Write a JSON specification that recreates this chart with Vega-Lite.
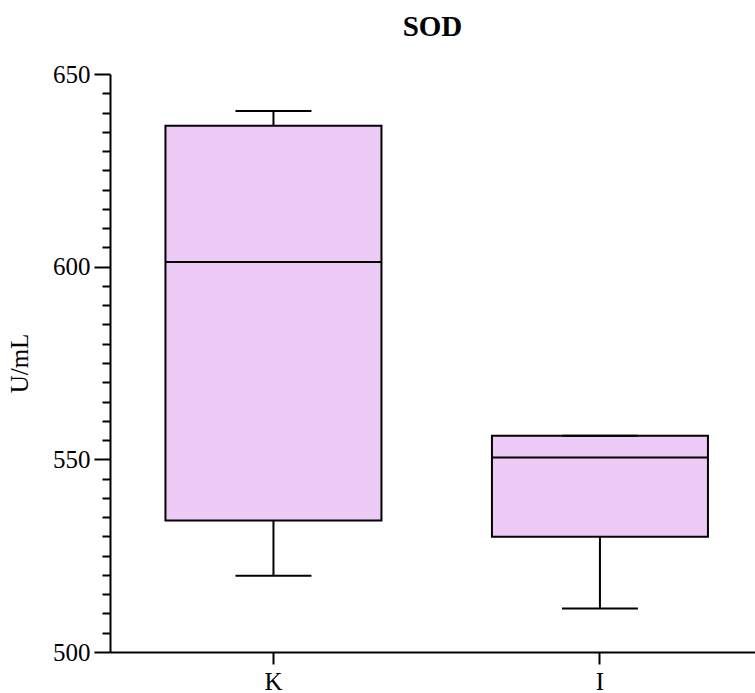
{
  "$schema": "https://vega.github.io/schema/vega-lite/v6.json",
  "autosize": "none",
  "width": 645,
  "height": 578,
  "padding": {"left": 110, "top": 74, "right": 0, "bottom": 41},
  "background": "white",
  "title": {
    "text": "SOD",
    "font": "Liberation Serif",
    "fontSize": 29,
    "fontWeight": "bold",
    "color": "black",
    "anchor": "middle",
    "baseline": "alphabetic",
    "offset": -3
  },
  "data": {
    "values": [
      {"group": "K", "min": 519.8, "q1": 534.1, "median": 601.2, "q3": 636.6, "max": 640.4},
      {"group": "I", "min": 511.3, "q1": 529.9, "median": 550.5, "q3": 556.1, "max": 556.1}
    ]
  },
  "encoding": {
    "x": {
      "field": "group",
      "type": "nominal",
      "sort": ["K", "I"],
      "scale": {"paddingInner": 0.3384, "paddingOuter": 0.157, "align": 0.541},
      "axis": {"title": null}
    }
  },
  "layer": [
    {
      "mark": {"type": "rule", "color": "black", "strokeWidth": 2},
      "encoding": {
        "y": {
          "field": "min",
          "type": "quantitative",
          "scale": {"domain": [500, 650], "nice": false, "zero": false},
          "axis": {"title": "U/mL"}
        },
        "y2": {"field": "q1"}
      }
    },
    {
      "mark": {"type": "rule", "color": "black", "strokeWidth": 2},
      "encoding": {
        "y": {"field": "q3", "type": "quantitative"},
        "y2": {"field": "max"}
      }
    },
    {
      "mark": {"type": "bar", "fill": "#EECBF7", "stroke": "black", "strokeWidth": 2, "width": {"band": 1}},
      "encoding": {
        "y": {"field": "q1", "type": "quantitative"},
        "y2": {"field": "q3"}
      }
    },
    {
      "mark": {"type": "tick", "color": "black", "opacity": 1, "thickness": 2, "size": 216},
      "encoding": {"y": {"field": "median", "type": "quantitative"}}
    },
    {
      "mark": {"type": "tick", "color": "black", "opacity": 1, "thickness": 2, "size": 76},
      "encoding": {"y": {"field": "min", "type": "quantitative"}}
    },
    {
      "mark": {"type": "tick", "color": "black", "opacity": 1, "thickness": 2, "size": 76},
      "encoding": {"y": {"field": "max", "type": "quantitative"}}
    }
  ],
  "config": {
    "view": {"stroke": null},
    "font": "Liberation Serif",
    "axis": {
      "domainColor": "black",
      "domainWidth": 2,
      "tickColor": "black",
      "tickWidth": 2,
      "grid": false,
      "labelFont": "Liberation Serif",
      "labelFontSize": 25,
      "labelColor": "black",
      "titleFont": "Liberation Serif",
      "titleFontSize": 25,
      "titleFontWeight": "normal",
      "titleColor": "black"
    },
    "axisX": {
      "labelAngle": 0,
      "tickSize": 12,
      "labelPadding": 5
    },
    "axisY": {
      "tickCount": 30,
      "labelOverlap": false,
      "labelFlush": false,
      "labelExpr": "datum.value % 50 === 0 ? datum.label : ''",
      "tickSize": {"condition": {"test": "datum.value % 50 === 0", "value": 16}, "value": 8},
      "labelPadding": 4,
      "titlePadding": 20
    }
  }
}
